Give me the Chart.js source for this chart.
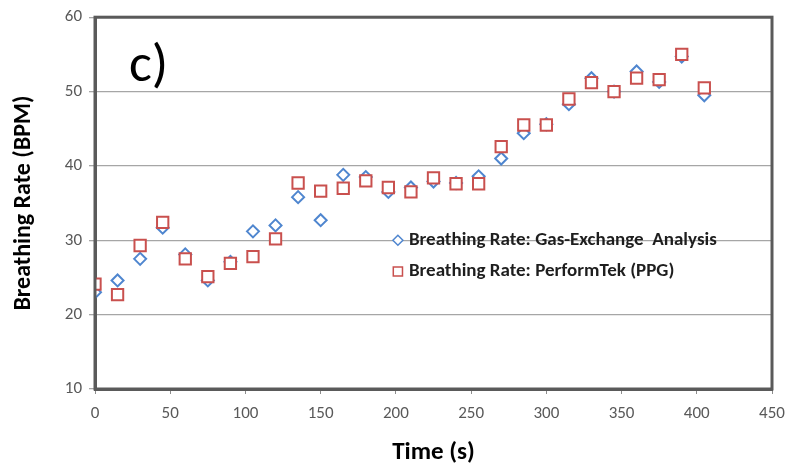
<!DOCTYPE html>
<html>
<head>
<meta charset="utf-8">
<script src="https://cdn.jsdelivr.net/npm/chart.js@4.4.1/dist/chart.umd.min.js"></script>
<style>
  html, body { margin: 0; padding: 0; background: #ffffff; }
  #wrap { width: 790px; height: 465px; position: relative; }
</style>
</head>
<body>
<div id="wrap"><canvas id="c" width="790" height="465"></canvas></div>
<script>
// ---- data ----
const timeSeconds = [0, 15, 30, 45, 60, 75, 90, 105, 120, 135, 150, 165, 180, 195, 210, 225, 240, 255, 270, 285, 300, 315, 330, 345, 360, 375, 390, 405];
const gasExchangeRate = [23.0, 24.6, 27.5, 31.7, 28.1, 24.6, 27.1, 31.2, 32.0, 35.8, 32.7, 38.8, 38.5, 36.5, 37.1, 37.9, 37.7, 38.6, 41.0, 44.4, 45.6, 48.3, 51.8, 50.0, 52.7, 51.3, 54.7, 49.5];
const performTekRate = [24.1, 22.7, 29.3, 32.4, 27.5, 25.1, 26.9, 27.8, 30.2, 37.7, 36.6, 37.0, 38.0, 37.1, 36.5, 38.4, 37.6, 37.6, 42.6, 45.5, 45.5, 49.0, 51.2, 50.0, 51.8, 51.6, 55.0, 50.5];
const seriesLabels = ['Breathing Rate: Gas-Exchange  Analysis', 'Breathing Rate: PerformTek (PPG)'];
const xTickValues = [0, 50, 100, 150, 200, 250, 300, 350, 400, 450];
const yTickValues = [10, 20, 30, 40, 50, 60];
const panelLabel = 'c)';
const xTitle = 'Time (s)';
const yTitle = 'Breathing Rate (BPM)';

const FONT = "Carlito, Lato, 'Liberation Sans', sans-serif";
const BLUE = '#4F86CF';
const RED = '#C9504E';

const toPoints = (xs, ys) => xs.map((x, i) => ({ x: x, y: ys[i] }));

const framePlugin = {
  id: 'frame',
  afterDatasetsDraw(chart) {
    const { ctx, chartArea: a } = chart;
    ctx.save();
    ctx.strokeStyle = '#5A5A5A';
    ctx.lineWidth = 3;
    ctx.strokeRect(a.left, a.top, a.right - a.left, a.bottom - a.top);
    // panel label
    ctx.fillStyle = '#000000';
    ctx.font = "54px " + FONT;
    ctx.textAlign = 'left';
    ctx.textBaseline = 'alphabetic';
    ctx.fillText(panelLabel, a.left + 34, a.top + 64);
    ctx.restore();
  }
};

const legendPlugin = {
  id: 'innerLegend',
  afterDraw(chart) {
    const { ctx } = chart;
    const xs = chart.scales.x, ys = chart.scales.y;
    const mx = xs.getPixelForValue(200) + 2;
    const rows = [ys.getPixelForValue(30.0), ys.getPixelForValue(25.8)];
    ctx.save();
    chart.data.datasets.forEach((ds, i) => {
      const y = rows[i];
      ctx.strokeStyle = ds.borderColor;
      ctx.fillStyle = '#ffffff';
      ctx.lineWidth = 1.5;
      Chart.helpers.drawPoint(ctx, { pointStyle: ds.pointStyle, radius: i === 0 ? 5 : 6.5, borderWidth: 1.5 }, mx, y);
      ctx.fillStyle = '#1E1E1E';
      ctx.font = "bold 19px " + FONT;
      ctx.textAlign = 'left';
      ctx.textBaseline = 'middle';
      ctx.fillText(ds.label, mx + 11, y);
    });
    ctx.restore();
  }
};

new Chart(document.getElementById('c'), {
  type: 'scatter',
  data: {
    datasets: [
      {
        label: seriesLabels[0],
        data: toPoints(timeSeconds, gasExchangeRate),
        pointStyle: 'rectRot',
        pointRadius: 6,
        pointHoverRadius: 6,
        borderColor: BLUE,
        backgroundColor: '#ffffff',
        borderWidth: 2,
        order: 2
      },
      {
        label: seriesLabels[1],
        data: toPoints(timeSeconds, performTekRate),
        pointStyle: 'rect',
        pointRadius: 8,
        pointHoverRadius: 8,
        borderColor: RED,
        backgroundColor: '#ffffff',
        borderWidth: 2,
        order: 1
      }
    ]
  },
  options: {
    responsive: false,
    animation: false,
    events: [],
    layout: { padding: { top: 17, right: 18, left: 0, bottom: 0 } },
    plugins: { legend: { display: false }, tooltip: { enabled: false } },
    scales: {
      x: {
        type: 'linear',
        min: 0, max: 450,
        afterBuildTicks(scale) { scale.ticks = xTickValues.map(v => ({ value: v })); },
        afterFit(scale) { scale.height = 76; },
        ticks: { color: '#595959', font: { family: FONT, size: 17, lineHeight: 2.0 }, padding: 3, maxRotation: 0 },
        grid: { drawOnChartArea: false, color: '#8C8C8C', tickLength: 5 },
        border: { color: '#5A5A5A', width: 3 },
        title: { display: true, text: xTitle, color: '#000000', font: { family: FONT, size: 25, weight: 'bold' }, padding: { top: 0, bottom: -3 } }
      },
      y: {
        type: 'linear',
        min: 10, max: 60,
        afterBuildTicks(scale) { scale.ticks = yTickValues.map(v => ({ value: v })); },
        afterFit(scale) { scale.width = 95; },
        ticks: { color: '#595959', font: { family: FONT, size: 17 }, padding: 7 },
        grid: { color: '#A6A6A6', lineWidth: 1.3, tickLength: 6 },
        border: { color: '#5A5A5A', width: 3 },
        title: { display: true, text: yTitle, color: '#000000', font: { family: FONT, size: 24, weight: 'bold' }, padding: { top: 10, bottom: 4 } }
      }
    }
  },
  plugins: [framePlugin, legendPlugin]
});
</script>
</body>
</html>
